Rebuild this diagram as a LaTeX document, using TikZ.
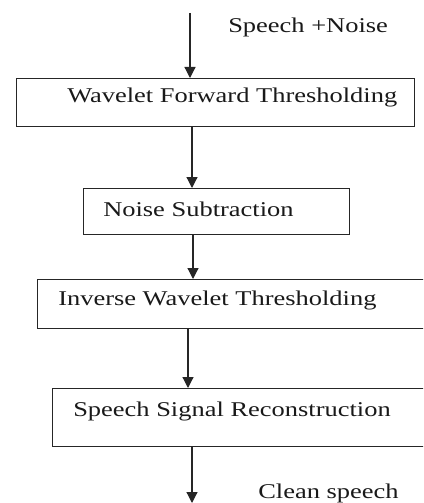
\documentclass[tikz,border=0pt]{standalone}
\usepackage{fontspec}
\setmainfont{Liberation Serif}
\usetikzlibrary{arrows.meta,calc}
\tikzset{
  box/.style={draw=black!85, line width=1.3pt, rectangle, inner sep=0pt, anchor=north west},
  lbl/.style={anchor=west, inner sep=0pt, font=\fontsize{21pt}{24pt}\selectfont, text=black!90, xscale=1.26, transform shape},
  arr/.style={draw=black!85, line width=1.2pt, -{Triangle[width=11pt,length=11pt]}},
}
\begin{document}
\begin{tikzpicture}[x=1pt,y=-1pt]
\useasboundingbox (0,0) rectangle (423,503);
\clip (0,0) rectangle (423,503);
% boxes
\node[box, minimum width=398pt, minimum height=48pt] (b1) at (16,78) {};
\node[box, minimum width=266pt, minimum height=46pt] (b2) at (83,188) {};
\node[box, minimum width=400pt, minimum height=49pt] (b3) at (37,279) {};
\node[box, minimum width=400pt, minimum height=58pt] (b4) at (52,388) {};
% labels
\node[lbl] (t1) at (67,97) {Wavelet Forward Thresholding};
\node[lbl] (t2) at (103,209) {Noise Subtraction};
\node[lbl] (t3) at (58,300) {Inverse Wavelet Thresholding};
\node[lbl] (t4) at (73,411) {Speech Signal Reconstruction};
\node[lbl] (in) at (228,27) {Speech +Noise};
\node[lbl] (out) at (258,493) {Clean speech};
% connectors
\coordinate (src) at (190,13);
\coordinate (sink) at (192,503);
\draw[arr] (src) -- (src |- b1.north);
\draw[arr] ($(b1.south west)+(176,0)$) -- ($(b2.north west)+(109,0)$);
\draw[arr] ($(b2.south west)+(110,0)$) -- ($(b3.north west)+(156,0)$);
\draw[arr] ($(b3.south west)+(151,0)$) -- ($(b4.north west)+(136,0)$);
\draw[arr] ($(b4.south west)+(140,0)$) -- (sink);
\end{tikzpicture}
\end{document}
